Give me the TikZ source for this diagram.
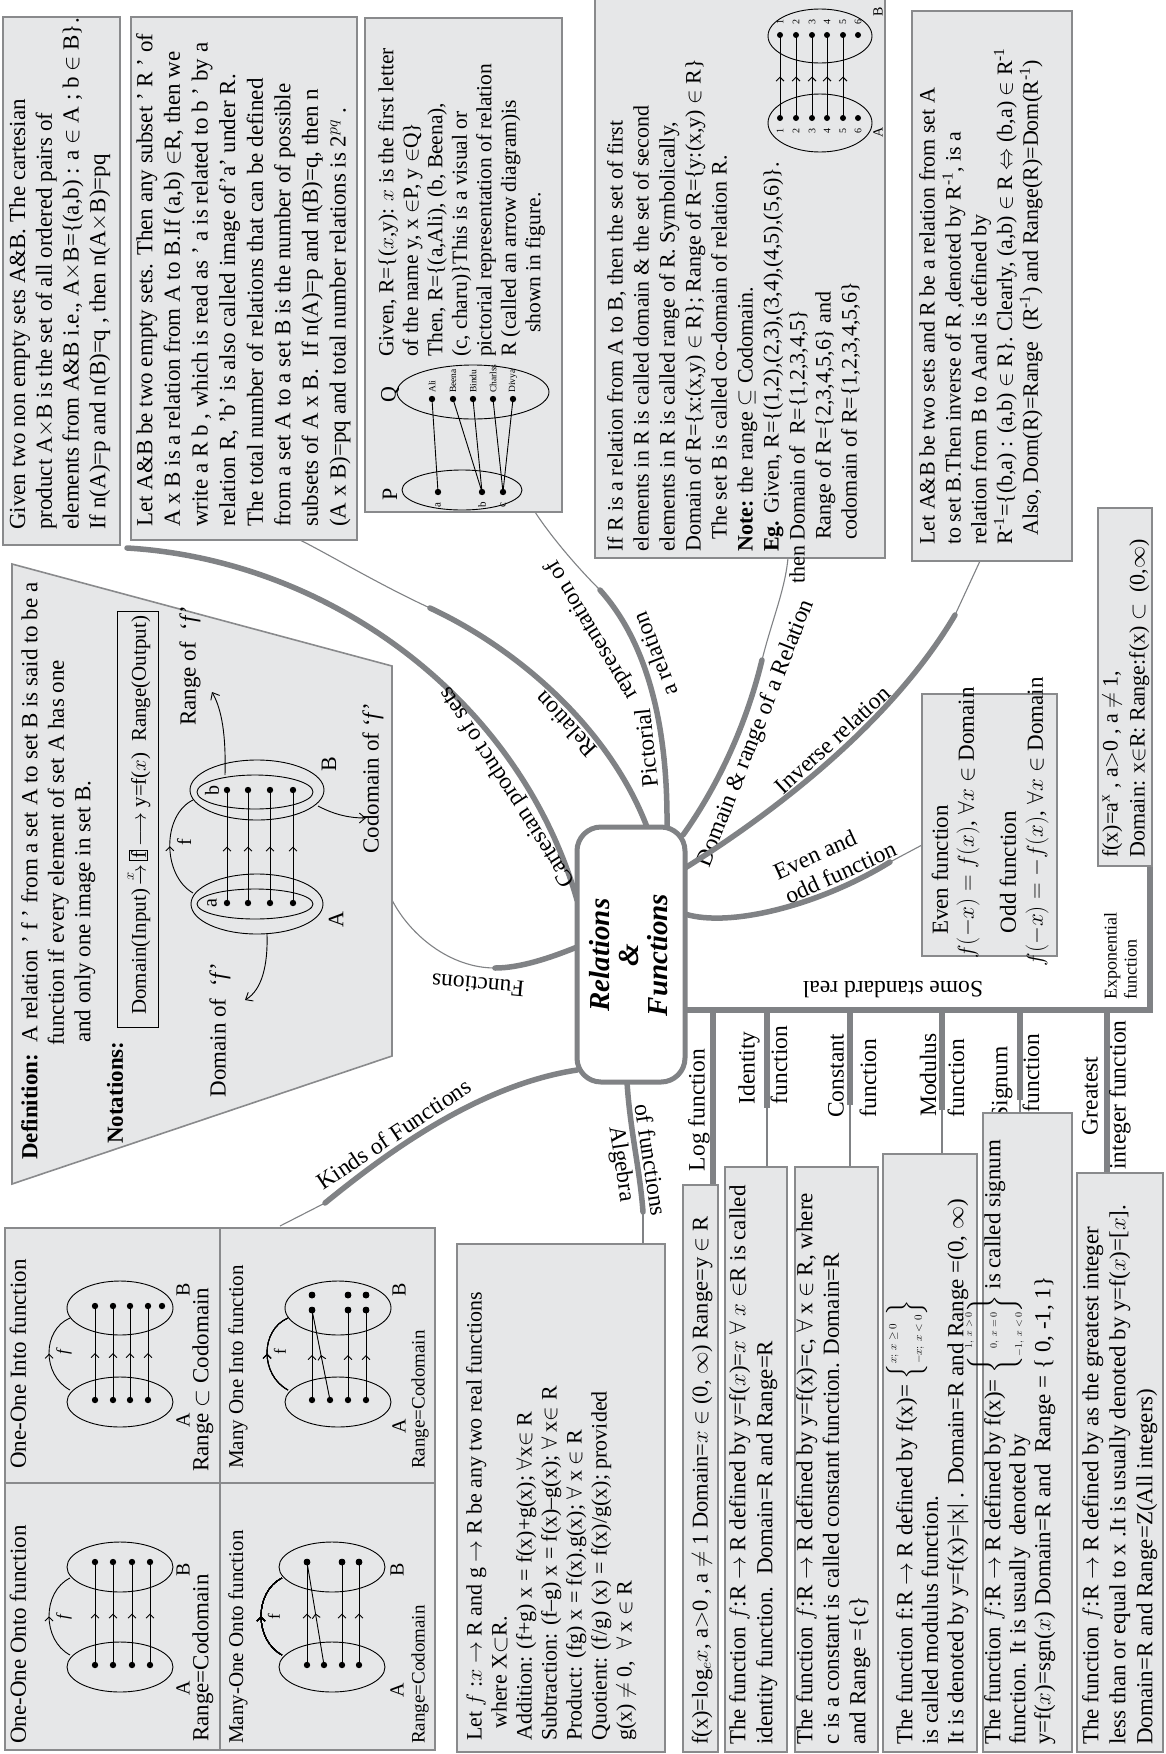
\documentclass[tikz,border=0pt]{standalone}
\usepackage{fix-cm}
\usepackage{amsmath,amssymb}
\usepackage{fontspec}
\setmainfont{Liberation Serif}
\usetikzlibrary{arrows.meta,decorations.markings}
\definecolor{boxfill}{HTML}{E6E7E8}
\definecolor{boxline}{HTML}{898A8C}
\definecolor{branchgray}{HTML}{808285}
\newcommand{\setfs}[2]{\fontsize{#1}{#2}\selectfont}
\newcommand{\inv}{\textsuperscript{-1}}
\newcommand{\dotat}[2]{\fill (#1,#2) circle[radius=3.2];}

\begin{document}
\begin{tikzpicture}[x=1pt,y=-1pt,
  infobox/.style={draw=boxline, fill=boxfill, line width=1.6pt},
  vtext/.style={rotate=90, anchor=north west, inner sep=0pt, align=left},
  vlab/.style={rotate=90, inner sep=0pt},
  branch/.style={draw=branchgray, line width=5.5pt, line cap=round},
  twig/.style={draw=branchgray, line width=1.1pt},
  lbl/.style={font=\setfs{23.5}{27}, inner sep=3pt},
  ell/.style={draw=black, line width=0.9pt},
  link/.style={draw=black, line width=0.9pt},
  midarrow/.style={postaction={decorate}, decoration={markings, mark=at position 0.5 with {\arrow{Straight Barb[length=4pt,width=8pt]}}}},
  pointer/.style={draw=black, line width=0.9pt, -{Straight Barb[length=6pt,width=10pt]}},
]
\useasboundingbox (0,0) rectangle (1165,1754);
\fill[white] (0,0) rectangle (1165,1754);

% ================= branches =================
% Cartesian product
\coordinate (hCart) at (577,900);
\coordinate (cartEnd) at (127,548);
\draw[branch] (hCart) .. controls (520,700) and (330,560) .. (cartEnd)
  node[lbl, pos=0.22, sloped, allow upside down, above] (cartLbl) {Cartesian product of sets};

% Relation
\coordinate (hRel) at (647,827);
\coordinate (relMid) at (430,608);
\coordinate (relEnd) at (300,540);
\draw[branch] (hRel) .. controls (610,730) and (520,650) .. (relMid)
  node[lbl, pos=0.42, sloped, allow upside down, above] (relLbl) {Relation};
\draw[twig] (relMid) .. controls (380,585) and (330,555) .. (relEnd);

% Pictorial representation
\coordinate (hPic) at (667,827);
\coordinate (picMid) at (600,590);
\coordinate (picEnd) at (535,512);
\draw[branch] (hPic) .. controls (668,720) and (645,640) .. (picMid)
  node[lbl, pos=0.62, sloped, allow upside down, below] (picLblB) {a relation};
\draw[twig] (picMid) .. controls (575,565) and (550,535) .. (picEnd);
\node[lbl, rotate=96] (picLbl) at (646,748) {Pictorial};
\node[lbl, rotate=121] (picLbl2) at (592,630) {representation of};

% Domain & range
\coordinate (hDom) at (683,835);
\coordinate (domMid) at (762,660);
\coordinate (domEnd) at (788,558);
\draw[branch] (hDom) .. controls (715,790) and (745,730) .. (domMid)
  node[lbl, pos=0.66, sloped, below] (domLbl) {Domain \& range of a Relation};
\draw[twig] (domMid) .. controls (772,620) and (785,590) .. (domEnd);

% Inverse relation
\coordinate (hInv) at (685,868);
\coordinate (invMid) at (955,615);
\coordinate (invEnd) at (980,561);
\draw[branch] (hInv) .. controls (770,815) and (890,725) .. (invMid)
  node[lbl, pos=0.55, sloped, above] (invLbl) {Inverse relation};
\draw[twig] (invMid) -- (invEnd);

% Even and odd
\coordinate (hEven) at (685,914);
\coordinate (evenMid) at (890,862);
\coordinate (evenEnd) at (922,845);
\draw[branch] (hEven) .. controls (730,928) and (820,905) .. (evenMid)
  node[lbl, pos=0.8, sloped, above, align=left] (evenLbl) {Even and\\odd function};
\draw[twig] (evenMid) -- (evenEnd);

% Some standard real functions
\coordinate (hStd) at (685,1010);
\coordinate (stdCorner) at (1150,1010);
\coordinate (expBox) at (1150,866);
\draw[branch, line cap=butt, line join=miter] (hStd) -- (stdCorner) -- (expBox);
\node[lbl, rotate=180] (stdLbl) at (893,990) {Some standard real};

\coordinate (sLog) at (713,1010);   \coordinate (logBox) at (713,1185);
\coordinate (sId) at (767,1010);    \coordinate (idMid) at (767,1108);  \coordinate (idBox) at (767,1167);
\coordinate (sCon) at (850,1010);   \coordinate (conMid) at (850,1105); \coordinate (conBox) at (850,1167);
\coordinate (sMod) at (942,1010);   \coordinate (modMid) at (942,1110); \coordinate (modBox) at (942,1154);
\coordinate (sSgn) at (1020,1010);  \coordinate (sgnMid) at (1020,1100);\coordinate (sgnBox) at (1020,1113);
\coordinate (sGr) at (1107,1010);   \coordinate (grBox) at (1107,1173);
\draw[branch, line cap=butt] (sLog) -- (logBox);
\draw[branch, line cap=butt] (sId) -- (idMid);   \draw[twig] (idMid) -- (idBox);
\draw[branch, line cap=butt] (sCon) -- (conMid); \draw[twig] (conMid) -- (conBox);
\draw[branch, line cap=butt] (sMod) -- (modMid); \draw[twig] (modMid) -- (modBox);
\draw[branch, line cap=butt] (sSgn) -- (sgnMid); \draw[twig] (sgnMid) -- (sgnBox);
\draw[branch, line cap=butt] (sGr) -- (grBox);

\node[lbl, vlab] (logLbl) at (699,1110) {Log function};
\node[lbl, vlab] (idLbl) at (749,1068) {Identity};
\node[lbl, vlab] (idLbl2) at (779,1065) {function};
\node[lbl, vlab] (conLbl) at (836,1076) {Constant};
\node[lbl, vlab] (conLbl2) at (868,1078) {function};
\node[lbl, vlab] (modLbl) at (928,1075) {Modulus};
\node[lbl, vlab] (modLbl2) at (956,1078) {function};
\node[lbl, vlab] (sgnLbl) at (1002,1083) {Signum};
\node[lbl, vlab] (sgnLbl2) at (1031,1073) {function};
\node[lbl, vlab] (grLbl) at (1090,1096) {Greatest};
\node[lbl, vlab] (grLbl2) at (1120,1095) {integer function};
\node[vtext, font=\setfs{18}{20}] (expLbl) at (1104,1000) {Exponential\\function};

% Algebra of functions
\coordinate (hAlg) at (627,1082);
\coordinate (algMid) at (643,1212);
\coordinate (algEnd) at (643,1244);
\draw[branch] (hAlg) .. controls (630,1130) and (640,1170) .. (algMid)
  node[lbl, pos=0.6, sloped, below] (algLbl) {Algebra}
  node[lbl, pos=0.6, sloped, above] (algLbl2) {of functions};
\draw[twig] (algMid) -- (algEnd);

% Kinds of functions
\coordinate (hKind) at (577,1070);
\coordinate (kindMid) at (325,1203);
\coordinate (kindEnd) at (280,1226);
\draw[branch] (hKind) .. controls (480,1085) and (390,1150) .. (kindMid)
  node[lbl, pos=0.65, sloped, above] (kindLbl) {Kinds of Functions};
\draw[twig] (kindMid) -- (kindEnd);

% Functions (definition)
\coordinate (hFun) at (577,947);
\coordinate (funMid) at (495,968);
\coordinate (funEnd) at (392,900);
\draw[branch] (hFun) .. controls (550,958) and (520,968) .. (funMid);
\draw[twig] (funMid) .. controls (450,968) and (410,935) .. (funEnd);
\node[lbl, rotate=175] (funLbl) at (478,985) {Functions};

% ================= hub =================
\node[draw=branchgray, line width=5pt, rounded corners=24pt, fill=white,
      minimum width=108pt, minimum height=255pt, inner sep=0pt] (hub) at (631,954.5) {};
\node[rotate=90, align=center, font=\setfs{29}{29}\bfseries\itshape] (title) at (629,955)
  {Relations\\\&\\Functions};

% ================= cartesian product box =================
\draw[infobox] (3,17) rectangle (120,545);
\node[vtext, font=\setfs{23}{26.7}] (cartText) at (9,530)
{Given two non empty sets A\&B. The cartesian\\
product A$\times$B is the set of all ordered pairs of\\
elements from A\&B i.e., A$\times$B=\{(a,b) : a $\in$ A ; b $\in$ B\}.\\
If n(A)=p and n(B)=q , then n(A$\times$B)=pq};

% ================= relation box =================
\draw[infobox] (131,17) rectangle (357,540);
\node[vtext, font=\setfs{23}{27.6}] (relText) at (136,527)
{Let A\&B be two empty sets. Then any subset ' R ' of\\
A x B is a relation from A to B.If (a,b) $\in$R, then we\\
write a R b , which is read as ' a is related to b ' by a\\
relation R, 'b' is also called image of'a' under R.\\
The total number of relations that can be defined\\
from a set A to a set B is the number of possible\\
subsets of A x B.\ \ If n(A)=p and n(B)=q, then n\\
(A x B)=pq and total number relations is 2$^{pq}$ .};

% ================= arrow diagram box =================
\draw[infobox] (365,18) rectangle (562,512);
\node[vtext, font=\setfs{21.5}{24.5}] (picText) at (378,357)
{Given, R=\{($x$,y): $x$ is the first letter\\
of the name y, x $\in$P, y $\in$Q\}\\
Then, R=\{(a,Ali), (b, Beena),\\
(c, charu)\}This is a visual or\\
pictorial representation of relation\\
R (called an arrow diagram)is\\
\hspace*{24pt}shown in figure.};
\node[vlab, font=\setfs{22}{24}] (Plbl) at (390,494) {P};
\node[vlab, font=\setfs{22}{24}] (Qlbl) at (390,395) {Q};
\draw[ell] (462,490) ellipse[x radius=60, y radius=20];
\draw[ell] (473,392) ellipse[x radius=76, y radius=27];
\coordinate (pa) at (438,492); \coordinate (pb) at (482,492); \coordinate (pc) at (503,492);
\coordinate (qAli) at (432,399); \coordinate (qBee) at (453,399); \coordinate (qBin) at (473,399);
\coordinate (qCha) at (493,399); \coordinate (qDiv) at (513,399);
\draw[link] (pa) -- (qAli);
\draw[link] (pb) -- (qBee);
\draw[link] (pb) -- (qBin);
\draw[link] (pc) -- (qCha);
\draw[link] (pc) -- (qDiv);
\foreach \p in {pa,pb,pc,qAli,qBee,qBin,qCha,qDiv} \fill (\p) circle[radius=3.2];
\node[vlab, font=\setfs{11}{12}] at (438,505) {a};
\node[vlab, font=\setfs{11}{12}] at (482,505) {b};
\node[vlab, font=\setfs{11}{12}] at (503,505) {c};
\foreach \x/\nm in {432/Ali,453/Beena,473/Bindu,493/Charlss,513/Divya}
  \node[vlab, anchor=west, font=\setfs{9.5}{10}] at (\x,393) {\nm};

% ================= domain and range box =================
\draw[infobox] (595,-5) rectangle (885,558);
\node[vtext, font=\setfs{22}{26}] (domText) at (607,584)
{\hspace*{32pt}If R is a relation from A to B, then the set of first\\
\hspace*{32pt}elements in R is called domain \& the set of second\\
\hspace*{32pt}elements in R is called range of R. Symbolically,\\
\hspace*{32pt}Domain of R=\{x:(x,y) $\in$ R\}; Range of R=\{y:(x,y) $\in$ R\}\\
\hspace*{44pt}The set B is called co-domain of relation R.\\
\hspace*{32pt}\textbf{Note:} the range $\subseteq$ Codomain.\\
\hspace*{32pt}\textbf{Eg.} Given, R=\{(1,2),(2,3),(3,4),(4,5),(5,6)\}.\\
then Domain of\ \ R=\{1,2,3,4,5\}\\
\hspace*{44pt}Range of R=\{2,3,4,5,6\} and\\
\hspace*{44pt}codomain of R=\{1,2,3,4,5,6\}};
\draw[ell] (820,123) ellipse[x radius=52, y radius=29];
\draw[ell] (820,36) ellipse[x radius=52, y radius=27];
\foreach \x in {780,796,812,827,843} \draw[link, midarrow] (\x,118) -- (\x,35);
\foreach \i/\x in {1/780,2/796,3/812,4/827,5/843,6/858} {
  \fill (\x,118) circle[radius=3];
  \fill (\x,35) circle[radius=3];
  \node[vlab, font=\setfs{10}{11}] at (\x,131) {\i};
  \node[vlab, font=\setfs{10}{11}] at (\x,22) {\i};
}
\node[vlab, font=\setfs{14}{15}] at (878,132) {A};
\node[vlab, font=\setfs{14}{15}] at (878,12) {B};

% ================= inverse relation box =================
\draw[infobox] (912,11) rectangle (1072,561);
\node[vtext, font=\setfs{22}{25.8}] (invText) at (919,545)
{Let A\&B be two sets and R be a relation from set A\\
to set B.Then inverse of R ,denoted by R\inv, is a\\
relation from B to Aand is defined by\\
R\inv=\{(b,a) : (a,b) $\in$ R\}. Clearly, (a,b) $\in$ R $\Leftrightarrow$ (b,a) $\in$ R\inv\\
\hspace*{9pt}Also, Dom(R)=Range\ \ (R\inv) and Range(R)=Dom(R\inv)};

% ================= even / odd box =================
\draw[infobox] (922,694) rectangle (1057,956);
\node[vlab, font=\setfs{23}{26}] (evenT) at (940,870) {Even function};
\node[vlab, font=\setfs{23}{26}] (evenF) at (968,823) {$f(-x)=f(x)$, $\forall x\in$ Domain};
\node[vlab, font=\setfs{23}{26}] (oddT) at (1008,872) {Odd function};
\node[vlab, font=\setfs{23}{26}] (oddF) at (1037,822) {$f(-x)=-f(x)$, $\forall x\in$ Domain};

% ================= exponential box =================
\draw[infobox] (1098,508) rectangle (1152,866);
\node[vtext, font=\setfs{22}{27}] (expText) at (1102,858)
{f(x)=a$^{\mathrm{x}}$ , a$>$0 , a $\neq$ 1,\\
Domain: x$\in$R: Range:f(x) $\subset$\ \ (0,$\infty$)};

% ================= definition of function =================
\draw[infobox] (12,564) -- (392,666) -- (392,1056) -- (12,1184) -- cycle;
\node[vtext, font=\setfs{23}{26.5}] (defText) at (21,1160)
{\textbf{Definition:}\ \ A relation ' f ' from a set A to set B is said to be a\\
\hspace*{114pt}function if every element of set A has one\\
\hspace*{117pt}and only one image in set B.};
\node[vlab, anchor=west, font=\setfs{23}{26}\bfseries] (notLbl) at (115,1144) {Notations:};
\draw[line width=1pt] (117,611) rectangle (158,1027);
\node[vlab, anchor=west, font=\setfs{21}{23}] (notText) at (138,1015)
{Domain(Input)\,$\xrightarrow{x}$\,\setlength{\fboxsep}{1.5pt}\fbox{f}\,$\longrightarrow$\ y=f($x$)\ \ Range(Output)};
\draw[ell] (257,904) ellipse[x radius=66, y radius=30];
\draw[ell] (255,904) ellipse[x radius=58, y radius=15];
\draw[ell] (257,790) ellipse[x radius=67, y radius=30];
\draw[ell] (255,792) ellipse[x radius=58, y radius=17];
\foreach \x in {227,248,270,293} {
  \draw[link, midarrow] (\x,903) -- (\x,790);
  \dotat{\x}{903}\dotat{\x}{790}
}
\node[vlab, font=\setfs{20}{22}] at (212,903) {a};
\node[vlab, font=\setfs{20}{22}] at (212,790) {b};
\node[vlab, font=\setfs{22}{24}] at (336,920) {A};
\node[vlab, font=\setfs{22}{24}] at (329,764) {B};
\draw[link, midarrow] (193,893) .. controls (162,875) and (162,815) .. (193,800);
\node[vlab, font=\setfs{20}{22}] at (184,842) {f};
\draw[pointer] (267,934) .. controls (268,965) and (262,990) .. (245,1000);
\draw[pointer] (225,775) .. controls (226,735) and (222,710) .. (212,692);
\draw[pointer] (318,806) .. controls (335,815) and (350,818) .. (366,818);
\node[vlab, font=\setfs{23}{26}] (domOf) at (220,1030) {Domain of\ \ ‘\textit{f}’};
\node[vlab, font=\setfs{23}{26}] (ranOf) at (190,666) {Range of\ \ ‘\textit{f}’};
\node[vlab, font=\setfs{23}{26}] (codOf) at (373,778) {Codomain of ‘\textit{f}’};

% ================= kinds of functions table =================
\draw[infobox] (5,1228) rectangle (435,1750);
\draw[boxline, line width=1.6pt] (220,1228) -- (220,1750);
\draw[boxline, line width=1.6pt] (5,1483) -- (435,1483);
\node[vlab, anchor=west, font=\setfs{23}{26}] at (18,1744) {One-One Onto function};
\node[vlab, anchor=west, font=\setfs{23}{26}] at (18,1469) {One-One Into function};
\node[vlab, anchor=west, font=\setfs{21}{24}] at (238,1744) {Many-One Onto function};
\node[vlab, anchor=west, font=\setfs{21}{24}] at (238,1469) {Many One Into function};
\node[vlab, anchor=west, font=\setfs{23}{26}] at (203,1742) {Range=Codomain};
\node[vlab, anchor=west, font=\setfs{23}{26}] at (203,1472) {Range $\subset$ Codomain};
\node[vlab, anchor=west, font=\setfs{19}{22}] at (420,1744) {Range=Codomain};
\node[vlab, anchor=west, font=\setfs{19}{22}] at (420,1469) {Range=Codomain};

% one-one onto
\draw[ell] (120,1667) ellipse[x radius=53, y radius=25];
\draw[ell] (120,1567) ellipse[x radius=53, y radius=25];
\foreach \x in {95,113,132,150} {
  \draw[link, midarrow] (\x,1665) -- (\x,1562);
  \dotat{\x}{1665}\dotat{\x}{1562}
}
\draw[link, midarrow] (70,1655) .. controls (42,1640) and (42,1592) .. (70,1578);
\node[vlab, font=\setfs{17}{19}\itshape] at (64,1617) {f};
\node[vlab, font=\setfs{20}{22}] at (183,1688) {A};
\node[vlab, font=\setfs{20}{22}] at (183,1570) {B};

% one-one into
\draw[ell] (120,1402) ellipse[x radius=53, y radius=25];
\draw[ell] (120,1308) ellipse[x radius=53, y radius=27];
\foreach \x in {95,113,130,148} {
  \draw[link, midarrow] (\x,1400) -- (\x,1306);
  \dotat{\x}{1400}\dotat{\x}{1306}
}
\dotat{162}{1306}
\draw[link, midarrow] (70,1390) .. controls (42,1375) and (42,1330) .. (70,1318);
\node[vlab, font=\setfs{17}{19}\itshape] at (64,1352) {f};
\node[vlab, font=\setfs{20}{22}] at (183,1420) {A};
\node[vlab, font=\setfs{20}{22}] at (183,1290) {B};

% many-one onto
\draw[ell] (332,1667) ellipse[x radius=53, y radius=25];
\draw[ell] (332,1567) ellipse[x radius=53, y radius=25];
\foreach \a/\b in {307/307,324/307,342/342,359/359} {
  \draw[link, midarrow] (\a,1665) -- (\b,1562);
}
\foreach \x in {307,324,342,359} \dotat{\x}{1665}
\foreach \x in {307,342,359} \dotat{\x}{1562}
\draw[link, midarrow] (282,1655) .. controls (254,1640) and (254,1592) .. (282,1578);
\node[vlab, font=\setfs{17}{19}] at (274,1617) {f};
\node[vlab, font=\setfs{20}{22}] at (397,1690) {A};
\node[vlab, font=\setfs{20}{22}] at (397,1570) {B};

% many-one into
\draw[ell] (338,1402) ellipse[x radius=53, y radius=25];
\draw[ell] (338,1308) ellipse[x radius=53, y radius=27];
\foreach \a/\b in {312/312,330/312,348/348,366/366} {
  \draw[link, midarrow] (\a,1400) -- (\b,1310);
}
\foreach \x in {312,330,348,366} \dotat{\x}{1400}
\foreach \x in {312,348,366} {\dotat{\x}{1310}\dotat{\x}{1295}}
\draw[link, midarrow] (288,1390) .. controls (260,1375) and (260,1330) .. (288,1318);
\node[vlab, font=\setfs{17}{19}] at (280,1352) {f};
\node[vlab, font=\setfs{20}{22}] at (399,1426) {A};
\node[vlab, font=\setfs{20}{22}] at (399,1290) {B};

% ================= algebra of functions box =================
\draw[infobox] (457,1244) rectangle (665,1752);
\node[vtext, font=\setfs{22}{25}] (algText) at (466,1741)
{Let $f$ :$x$ $\rightarrow$ R and g $\rightarrow$ R be any two real functions\\
\hspace*{12pt}where X$\subset$R.\\
Addition: (f+g) x = f(x)+g(x); $\forall$x$\in$ R\\
Subtraction: (f--g) x = f(x)--g(x); $\forall$ x$\in$ R\\
Product: (fg) x = f(x).g(x); $\forall$ x $\in$ R\\
Quotient: (f/g) (x) = f(x)/g(x); provided\\
g(x) $\neq$ 0,\ \ $\forall$ x $\in$ R};

% ================= standard function boxes =================
\draw[infobox] (683,1185) rectangle (718,1752);
\node[vlab, anchor=west, font=\setfs{22.5}{26}] (logText) at (702,1745)
{f(x)=log$_{e}x$, a$>$0 , a $\neq$ 1 Domain=$x$ $\in$ (0, $\infty$) Range=y $\in$ R};

\draw[infobox] (725,1167) rectangle (787,1752);
\node[vtext, font=\setfs{23}{27}] (idText) at (729,1745)
{The function $f$:R $\rightarrow$ R defined by y=f($x$)=$x$ $\forall$ $x$ $\in$R is called\\
identity function.\ \ Domain=R and Range=R};

\draw[infobox] (795,1167) rectangle (878,1752);
\node[vtext, font=\setfs{23}{26.5}] (conText) at (796,1745)
{The function $f$:R $\rightarrow$ R defined by y=f(x)=c, $\forall$ x $\in$ R, where\\
c is a constant is called constant function. Domain=R\\
and Range =\{c\}};

\draw[infobox] (883,1154) rectangle (977,1752);
\node[vtext, font=\setfs{23}{25.5}] (modText) at (896,1745)
{The function f:R $\rightarrow$ R defined by f(x)= \smash{$\left\{\vcenter{\hbox{\setfs{11}{12}$x;\ x\geq 0$}\hbox{\setfs{11}{12}$-x;\ x<0$}}\right\}$}\\
is called modulus function.\\
It is denoted by y=f(x)=|x| . Domain=R and Range =(0, $\infty$)};

\draw[infobox] (983,1113) rectangle (1072,1752);
\node[vtext, font=\setfs{23}{25}] (sgnText) at (984,1745)
{The function $f$:R $\rightarrow$ R defined by f(x)= \smash{$\left\{\vcenter{\hbox{\setfs{10}{11}$\phantom{-}1,\ x>0$}\hbox{\setfs{10}{11}$\phantom{-}0,\ x=0$}\hbox{\setfs{10}{11}$-1,\ x<0$}}\right\}$} is called signum\\
function. It is usually\ \ denoted by\\
y=f($x$)=sgn($x$) Domain=R and\ \ Range = \{ 0, -1, 1\}};

\draw[infobox] (1077,1173) rectangle (1163,1752);
\node[vtext, font=\setfs{23}{27}] (grText) at (1082,1745)
{The function $f$:R $\rightarrow$ R defined by as the greatest integer\\
less than or equal to x .It is usually denoted by y=f($x$)=[$x$].\\
Domain=R and Range=Z(All integers)};

\end{tikzpicture}
\end{document}
